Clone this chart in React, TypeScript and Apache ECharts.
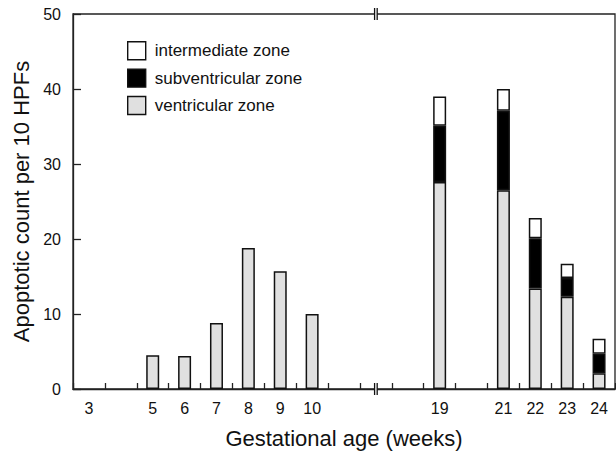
import React, { useEffect, useRef } from "react";
import * as echarts from "echarts";

// x-axis slots (weeks); "~" is the axis break
const categories = ["3", "4", "5", "6", "7", "8", "9", "10", "11", "~", "18", "19", "20", "21", "22", "23", "24"];
const shownLabels = ["3", "5", "6", "7", "8", "9", "10", "19", "21", "22", "23", "24"];

// weeks with data
const weeks = ["5", "6", "7", "8", "9", "10", "19", "21", "22", "23", "24"];
const ventricular = [4.5, 4.4, 8.8, 18.8, 15.7, 10.0, 27.6, 26.5, 13.4, 12.3, 2.1];
const subventricular = [0, 0, 0, 0, 0, 0, 7.5, 10.6, 6.7, 2.5, 2.6];
const intermediate = [0, 0, 0, 0, 0, 0, 3.9, 2.9, 2.7, 1.9, 2.0];

const yTicks = [0, 10, 20, 30, 40, 50];

const FONT = "'Liberation Sans', Arial, Helvetica, sans-serif";

function toSlots(vals: number[]): (number | null)[] {
  const out: (number | null)[] = categories.map(() => null);
  weeks.forEach((w, i) => {
    const idx = categories.indexOf(w);
    out[idx] = vals[i] > 0 ? vals[i] : null;
  });
  return out;
}

export default function App() {
  const ref = useRef<HTMLDivElement>(null);
  useEffect(() => {
    if (!ref.current) return;
    const chart = echarts.init(ref.current, null, { renderer: "svg" });
    const border = { borderColor: "#111", borderWidth: 1.5 };
    const mk = (name: string, vals: number[], color: string) => ({
      name,
      type: "bar",
      stack: "total",
      barWidth: 13,
      data: toSlots(vals),
      itemStyle: { color, ...border },
      emphasis: { disabled: true },
    });
    chart.setOption({
      animation: false,
      textStyle: { fontFamily: FONT },
      grid: {
        left: 73,
        right: 1,
        top: 14,
        bottom: 69,
        show: true,
        borderColor: "#222",
        borderWidth: 1.3,
        backgroundColor: "transparent",
      },
      legend: {
        orient: "vertical",
        left: 127,
        top: 41,
        padding: 0,
        itemWidth: 18,
        itemHeight: 18,
        itemGap: 8,
        icon: "rect",
        selectedMode: false,
        data: ["intermediate zone", "subventricular zone", "ventricular zone"],
        itemStyle: { borderColor: "#111", borderWidth: 1.4 },
        textStyle: { fontSize: 17, color: "#111", fontFamily: FONT, padding: [0, 0, 0, 4] },
      },
      xAxis: {
        type: "category",
        data: categories,
        boundaryGap: true,
        name: "Gestational age (weeks)",
        nameLocation: "middle",
        nameGap: 38,
        nameTextStyle: { fontSize: 22, color: "#111", fontFamily: FONT },
        axisLine: { lineStyle: { color: "#222", width: 1.3 } },
        axisTick: { show: true, inside: true, length: 6, interval: 0, lineStyle: { color: "#222", width: 1.3 } },
        axisLabel: {
          interval: 0,
          fontSize: 16,
          color: "#111",
          margin: 11,
          fontFamily: FONT,
          formatter: (v: string) => (shownLabels.indexOf(v) >= 0 ? v : ""),
        },
        splitLine: { show: false },
      },
      yAxis: {
        type: "value",
        min: yTicks[0],
        max: yTicks[yTicks.length - 1],
        interval: 10,
        name: "Apoptotic count per 10 HPFs",
        nameLocation: "middle",
        nameGap: 35,
        nameTextStyle: { fontSize: 22, color: "#111", fontFamily: FONT },
        axisLine: { show: true, lineStyle: { color: "#222", width: 1.3 } },
        axisTick: { show: true, inside: true, length: 8, lineStyle: { color: "#222", width: 1.3 } },
        axisLabel: { fontSize: 16, color: "#111", margin: 12, fontFamily: FONT },
        splitLine: { show: false },
      },
      series: [
        mk("ventricular zone", ventricular, "#e0e0e0"),
        mk("subventricular zone", subventricular, "#000000"),
        mk("intermediate zone", intermediate, "#ffffff"),
      ],
    });

    const bx = chart.convertToPixel({ xAxisIndex: 0 }, "~") as number;
    const yTop = chart.convertToPixel({ yAxisIndex: 0 }, yTicks[yTicks.length - 1]) as number;
    const yBot = chart.convertToPixel({ yAxisIndex: 0 }, yTicks[0]) as number;
    const breakMark = (y: number) => [
      { type: "rect", shape: { x: bx - 1.3, y: y - 2, width: 2.6, height: 4 }, style: { fill: "#fff" }, z: 100 },
      { type: "line", shape: { x1: bx - 1.3, y1: y - 6, x2: bx - 1.3, y2: y + 6 }, style: { stroke: "#111", lineWidth: 1.3 }, z: 101 },
      { type: "line", shape: { x1: bx + 1.3, y1: y - 6, x2: bx + 1.3, y2: y + 6 }, style: { stroke: "#111", lineWidth: 1.3 }, z: 101 },
    ];
    chart.setOption({ graphic: [...breakMark(yTop), ...breakMark(yBot)] });

    return () => chart.dispose();
  }, []);
  return (
    <div
      ref={ref}
      style={{ position: "fixed", left: 0, top: 0, width: 616, height: 458, background: "#fff" }}
    />
  );
}
